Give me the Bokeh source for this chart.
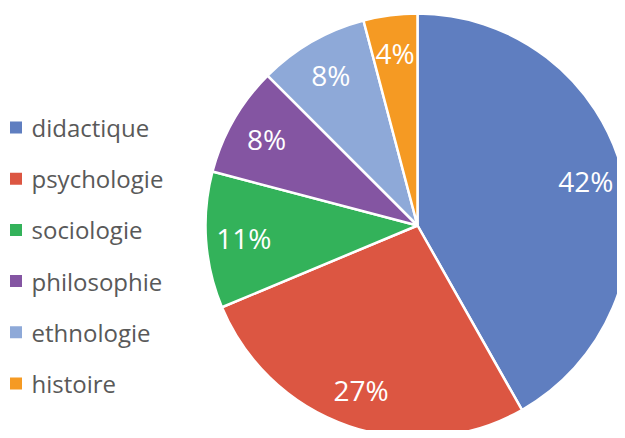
import math
from bokeh.plotting import figure
from bokeh.models import ColumnDataSource, Range1d
from bokeh.core.properties import value
from bokeh.embed import file_html
from bokeh.resources import INLINE

categories = ["didactique", "psychologie", "sociologie", "philosophie", "ethnologie", "histoire"]
shares = [41.8, 26.9, 10.4, 8.4, 8.4, 4.1]
labels = ["42%", "27%", "11%", "8%", "8%", "4%"]
colors = ["#5F7EC0", "#DC5642", "#33B25A", "#8455A2", "#8EA9D8", "#F59A23"]

W, H = 617, 430
cx, cy, R = 417, 205, 212
label_r = 174

total = sum(shares)
starts, ends, lx, ly = [], [], [], []
acc = 0.0
for s in shares:
    a0 = math.pi / 2 - 2 * math.pi * acc / total
    acc += s
    a1 = math.pi / 2 - 2 * math.pi * acc / total
    starts.append(a1)
    ends.append(a0)
    mid = (a0 + a1) / 2
    lx.append(cx + label_r * math.cos(mid))
    ly.append(cy + label_r * math.sin(mid))

src = ColumnDataSource(dict(cat=categories, start=starts, end=ends, color=colors,
                            lx=lx, ly=ly, lab=labels))

p = figure(width=W, height=H, output_backend="svg", toolbar_location=None,
           x_range=Range1d(0, W), y_range=Range1d(0, H), min_border=0)
p.axis.visible = False
p.grid.visible = False
p.outline_line_color = None

p.wedge(x=cx, y=cy, radius=R, start_angle="start", end_angle="end",
        fill_color="color", line_color="white", line_width=2.5, source=src)

p.text(x="lx", y="ly", text="lab", source=src, text_color="white",
       text_font=value("Open Sans"), text_font_size="28px",
       text_align="center", text_baseline="middle")

# legend
leg_y = [303 - 51.2 * i for i in range(len(categories))]
leg = ColumnDataSource(dict(cat=categories, color=colors, y=leg_y,
                            gx=[15.5] * len(categories), tx=[31] * len(categories)))
p.scatter(x="gx", y="y", marker="square", size=12, fill_color="color",
          line_color=None, source=leg)
p.text(x="tx", y="y", text="cat", source=leg, text_color="#595959",
       text_font=value("Open Sans"), text_font_size="24px",
       text_align="left", text_baseline="middle")

open("out.html", "w").write(file_html(p, INLINE))
